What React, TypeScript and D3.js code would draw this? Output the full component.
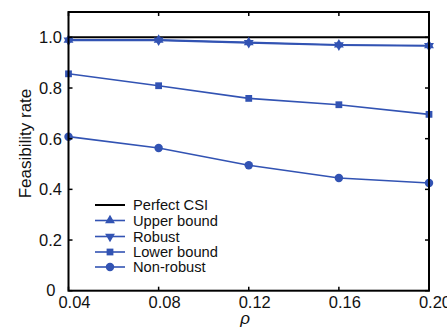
import React from "react";
import * as d3 from "d3";

const rho = [0.04, 0.08, 0.12, 0.16, 0.2];
const xTickLabels = ["0.04", "0.08", "0.12", "0.16", "0.20"];
const yTicks = [0, 0.2, 0.4, 0.6, 0.8, 1.0];
const yTickLabels = ["0", "0.2", "0.4", "0.6", "0.8", "1.0"];

const perfectCSI = [1, 1, 1, 1, 1];
const upperBound = [0.99, 0.99, 0.98, 0.971, 0.968];
const robust = [0.988, 0.988, 0.978, 0.969, 0.966];
const lowerBound = [0.856, 0.809, 0.759, 0.734, 0.696];
const nonRobust = [0.608, 0.563, 0.495, 0.445, 0.425];

const seriesNames = ["Perfect CSI", "Upper bound", "Robust", "Lower bound", "Non-robust"];

const BLUE = "#3253b3";
const W = 447;
const H = 329;
const left = 68.5;
const right = 429;
const top = 12;
const bottom = 290.7;

export default function App() {
  const x = d3.scaleLinear().domain([0.04, 0.2]).range([left, right]);
  const y = d3.scaleLinear().domain([0, 1.1]).range([bottom, top]);
  const line = d3
    .line<number>()
    .x((_, i) => x(rho[i]))
    .y((d) => y(d));

  const series = [
    { name: seriesNames[0], values: perfectCSI, color: "#000", marker: null as string | null, rot: 0 },
    { name: seriesNames[1], values: upperBound, color: BLUE, marker: "triUp", rot: 0 },
    { name: seriesNames[2], values: robust, color: BLUE, marker: "triDown", rot: 180 },
    { name: seriesNames[3], values: lowerBound, color: BLUE, marker: "square", rot: 0 },
    { name: seriesNames[4], values: nonRobust, color: BLUE, marker: "circle", rot: 0 },
  ];

  const symPath = (m: string | null) => {
    if (m === "triUp" || m === "triDown") return d3.symbol(d3.symbolTriangle, 42)()!;
    if (m === "square") return d3.symbol(d3.symbolSquare, 46)()!;
    if (m === "circle") return d3.symbol(d3.symbolCircle, 56)()!;
    return "";
  };

  const fontFam = "'Liberation Sans', Arial, Helvetica, sans-serif";
  const legendRows = [205, 220.5, 236.5, 252, 267];

  return (
    <div style={{ position: "fixed", left: 0, top: 0 }}>
      <svg width={W} height={H} style={{ display: "block", background: "#fff" }} fontFamily={fontFam}>
        <rect x={0} y={0} width={W} height={H} fill="#fff" />
        {/* data lines */}
        {series.map((s, si) => (
          <g key={si}>
            <path d={line(s.values)!} fill="none" stroke={s.color} strokeWidth={si === 0 ? 2 : 1.6} />
            {s.marker &&
              s.values.map((v, i) => (
                <path
                  key={i}
                  d={symPath(s.marker)}
                  transform={`translate(${x(rho[i])},${y(v)}) rotate(${s.rot})`}
                  fill={s.color}
                />
              ))}
          </g>
        ))}
        {/* axes box */}
        <rect x={left} y={top} width={right - left} height={bottom - top} fill="none" stroke="#000" strokeWidth={2} />
        {/* x ticks */}
        {rho.map((t, i) => (
          <g key={"xt" + i}>
            <line x1={x(t)} x2={x(t)} y1={bottom} y2={bottom - 4} stroke="#000" strokeWidth={1.5} />
            <line x1={x(t)} x2={x(t)} y1={top} y2={top + 4} stroke="#000" strokeWidth={1.5} />
            <text x={x(t) + 6} y={308} textAnchor="middle" fontSize={16.5} fill="#111">
              {xTickLabels[i]}
            </text>
          </g>
        ))}
        {/* y ticks */}
        {yTicks.map((t, i) => (
          <g key={"yt" + i}>
            <line x1={left} x2={left + 4} y1={y(t)} y2={y(t)} stroke="#000" strokeWidth={1.5} />
            <line x1={right} x2={right - 4} y1={y(t)} y2={y(t)} stroke="#000" strokeWidth={1.5} />
            <text
              x={t === 0 ? 55.5 : 62}
              y={t === 0 ? y(t) - 0.5 : y(t)}
              textAnchor="end"
              dominantBaseline="central"
              fontSize={16.5}
              fill="#111"
            >
              {yTickLabels[i]}
            </text>
          </g>
        ))}
        {/* axis labels */}
        <text x={245} y={324} textAnchor="middle" fontSize={17} fontStyle="italic" fill="#111">
          ρ
        </text>
        <text
          transform={`translate(31,143.5) rotate(-90)`}
          textAnchor="middle"
          fontSize={17}
          fill="#111"
        >
          Feasibility rate
        </text>
        {/* legend */}
        {series.map((s, si) => (
          <g key={"lg" + si}>
            <line x1={95} x2={125} y1={legendRows[si]} y2={legendRows[si]} stroke={s.color} strokeWidth={si === 0 ? 2 : 1.6} />
            {s.marker && (
              <path d={symPath(s.marker)} transform={`translate(110,${legendRows[si]}) rotate(${s.rot})`} fill={s.color} />
            )}
            <text x={133} y={legendRows[si]} dominantBaseline="central" fontSize={14.7} fill="#111">
              {s.name}
            </text>
          </g>
        ))}
      </svg>
    </div>
  );
}
